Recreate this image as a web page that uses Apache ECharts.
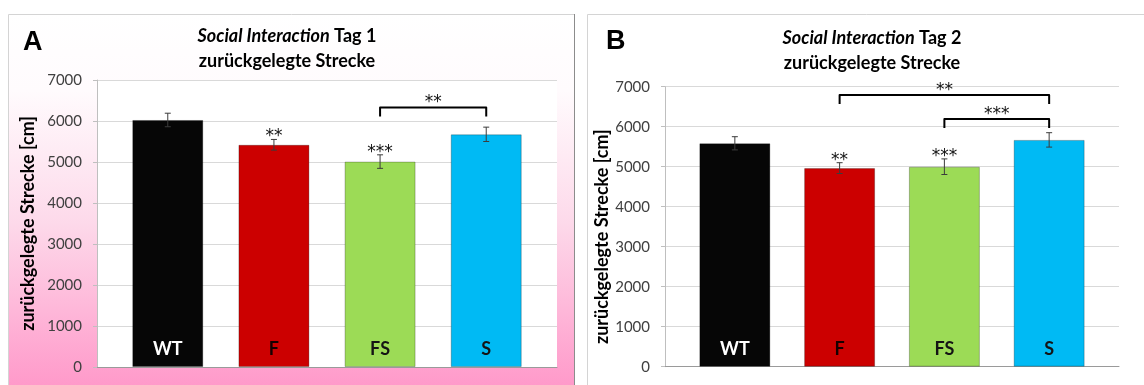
<!DOCTYPE html>
<html>
<head>
<meta charset="utf-8">
<script src="https://cdn.jsdelivr.net/npm/echarts@6/dist/echarts.min.js"></script>
<style>
html, body { margin: 0; padding: 0; background: #fff; }
#main { width: 1144px; height: 385px; }
</style>
</head>
<body>
<div id="main"></div>
<script>
// Gruppen und Werte
const categories = ['WT', 'F', 'FS', 'S'];
const barColors = ['#060606', '#cc0000', '#9cdb56', '#00baf4'];
const labelColors = ['#ffffff', '#160000', '#141414', '#141414'];

const day1Values = [6025, 5420, 5010, 5675];
const day1Errors = [165, 130, 165, 175];
const day1Stars = ['', '**', '***', ''];
// [von, bis, Höhe, Sterne]
const day1Brackets = [[2, 3, 6330, '**']];

const day2Values = [5585, 4965, 5000, 5670];
const day2Errors = [165, 135, 195, 180];
const day2Stars = ['', '**', '***', ''];
const day2Brackets = [[1, 3, 6790, '**'], [2, 3, 6190, '***']];

const yMin = 0, yMax = 7000, yStep = 1000;
const yTitle = 'zurückgelegte Strecke [cm]';

const FONT = 'Lato, "Open Sans", sans-serif';
const STAR_FONT = '17px "DejaVu Sans", sans-serif';

var myChart = echarts.init(document.getElementById('main'));

const barData = (values) => values.map((v, i) => ({
    value: [i, v],
    itemStyle: { color: barColors[i] },
    label: { color: labelColors[i] }
}));

const errData = (values, errors) => values.map((v, i) => [i, v, errors[i]]);

const errorItem = (stars) => (params, api) => {
    const x = api.value(0), v = api.value(1), e = api.value(2);
    const top = api.coord([x, v + e]);
    const bot = api.coord([x, v - e]);
    const st = { stroke: '#3c3c3c', lineWidth: 1 };
    const children = [
        { type: 'line', shape: { x1: top[0], y1: top[1], x2: bot[0], y2: bot[1] }, style: st },
        { type: 'line', shape: { x1: top[0] - 3, y1: top[1], x2: top[0] + 3, y2: top[1] }, style: st },
        { type: 'line', shape: { x1: bot[0] - 3, y1: bot[1], x2: bot[0] + 3, y2: bot[1] }, style: st }
    ];
    const s = stars[params.dataIndex];
    if (s) {
        children.push({
            type: 'text', x: top[0], y: top[1] + 6,
            style: { text: s, align: 'center', verticalAlign: 'bottom', font: STAR_FONT, fill: '#111' }
        });
    }
    return { type: 'group', children: children };
};

const bracketItem = (brackets) => (params, api) => {
    const b = brackets[params.dataIndex];
    const p1 = api.coord([b[0], b[2]]);
    const p2 = api.coord([b[1], b[2]]);
    return {
        type: 'group',
        children: [
            {
                type: 'polyline',
                shape: { points: [[p1[0], p1[1] + 9], [p1[0], p1[1]], [p2[0], p2[1]], [p2[0], p2[1] + 9]] },
                style: { stroke: '#000', lineWidth: 2, fill: null, lineJoin: 'round' }
            },
            {
                type: 'text', x: (p1[0] + p2[0]) / 2, y: p1[1] + 4,
                style: { text: b[3], align: 'center', verticalAlign: 'bottom', font: STAR_FONT, fill: '#111' }
            }
        ]
    };
};

const yAxisBase = (gridIndex, gap, pad) => ({
    type: 'value', gridIndex: gridIndex,
    min: yMin, max: yMax, interval: yStep,
    name: yTitle, nameLocation: 'middle', nameRotate: 90, nameGap: gap,
    nameTextStyle: { fontFamily: FONT, fontWeight: 'bold', fontSize: 18, color: '#000', padding: pad },
    axisLine: { show: true, onZero: false, lineStyle: { color: '#bfbfbf' } },
    axisTick: { show: true, length: 4, lineStyle: { color: '#bfbfbf' } },
    axisLabel: { fontFamily: FONT, fontSize: 15, color: '#404040', margin: 15, formatter: (v) => String(v) },
    splitLine: { lineStyle: { color: '#d9d9d9' } }
});

const xAxisBase = (gridIndex) => ({
    type: 'value', gridIndex: gridIndex,
    min: -2 / 3, max: 3 + 2 / 3,
    axisLine: { show: true, onZero: false, lineStyle: { color: '#9a9a9a' } },
    axisTick: { show: false },
    axisLabel: { show: false },
    splitLine: { show: false }
});

const barSeries = (idx, values) => ({
    type: 'bar', xAxisIndex: idx, yAxisIndex: idx,
    barWidth: 71,
    data: barData(values),
    itemStyle: { borderColor: 'rgba(0,0,0,0.25)', borderWidth: 1 },
    label: {
        show: true, position: 'insideBottom', distance: 9,
        fontFamily: FONT, fontWeight: 'bold', fontSize: 18,
        formatter: (p) => categories[p.dataIndex]
    },
    z: 2
});

const titleText = (x, y1, day) => ([
    {
        type: 'text', x: x, y: y1,
        style: {
            text: '{i|Social Interaction}{n| Tag ' + day + '}',
            align: 'center', verticalAlign: 'middle',
            rich: {
                i: { fontFamily: FONT, fontStyle: 'italic', fontWeight: 'bold', fontSize: 18, fill: '#000' },
                n: { fontFamily: FONT, fontWeight: 'bold', fontSize: 18, fill: '#000' }
            }
        }
    },
    {
        type: 'text', x: x, y: y1 + 25,
        style: {
            text: 'zurückgelegte Strecke', align: 'center', verticalAlign: 'middle',
            font: 'bold 18px ' + FONT, fill: '#000'
        }
    }
]);

myChart.setOption({
    animation: false,
    backgroundColor: '#ffffff',
    graphic: [
        {
            type: 'rect', z: -10, silent: true,
            shape: { x: 8.5, y: 14.5, width: 566, height: 380 },
            style: {
                stroke: '#d4d4d4', lineWidth: 1,
                fill: new echarts.graphic.LinearGradient(0, 0, 0, 1, [
                    { offset: 0, color: '#ffffff' },
                    { offset: 0.2, color: '#fffbfd' },
                    { offset: 0.55, color: '#fdd9ea' },
                    { offset: 1, color: '#ff96c8' }
                ])
            }
        },
        {
            type: 'line', z: -9, silent: true,
            shape: { x1: 574.5, y1: 14, x2: 574.5, y2: 385 },
            style: { stroke: '#8c8c8c', lineWidth: 1 }
        },
        {
            type: 'rect', z: -10, silent: true,
            shape: { x: 587.5, y: 14.5, width: 570, height: 380 },
            style: { stroke: '#d4d4d4', lineWidth: 1, fill: '#ffffff' }
        },
        {
            type: 'text', x: 23, y: 43,
            style: { text: 'A', font: 'bold 27px "Liberation Sans", Arial, sans-serif', fill: '#000', verticalAlign: 'middle' }
        },
        {
            type: 'text', x: 606, y: 42,
            style: { text: 'B', font: 'bold 27px "Liberation Sans", Arial, sans-serif', fill: '#000', verticalAlign: 'middle' }
        }
    ].concat(titleText(287, 36, 1), titleText(872, 38, 2)),
    grid: [
        { left: 97, top: 80, width: 460, height: 287, show: true, backgroundColor: '#ffffff', borderWidth: 0, outerBoundsMode: 'none' },
        { left: 665, top: 86.7, width: 454, height: 280, show: true, backgroundColor: '#ffffff', borderWidth: 0, outerBoundsMode: 'none' }
    ],
    xAxis: [xAxisBase(0), xAxisBase(1)],
    yAxis: [yAxisBase(0, 60, [0, 0, 0, 0]), yAxisBase(1, 53, [0, 20, 0, 0])],
    series: [
        barSeries(0, day1Values),
        barSeries(1, day2Values),
        {
            type: 'custom', xAxisIndex: 0, yAxisIndex: 0,
            renderItem: errorItem(day1Stars),
            data: errData(day1Values, day1Errors), z: 5
        },
        {
            type: 'custom', xAxisIndex: 1, yAxisIndex: 1,
            renderItem: errorItem(day2Stars),
            data: errData(day2Values, day2Errors), z: 5
        },
        {
            type: 'custom', xAxisIndex: 0, yAxisIndex: 0,
            encode: { x: [0, 1], y: 2 },
            renderItem: bracketItem(day1Brackets),
            data: day1Brackets.map(b => [b[0], b[1], b[2]]), z: 6
        },
        {
            type: 'custom', xAxisIndex: 1, yAxisIndex: 1,
            encode: { x: [0, 1], y: 2 },
            renderItem: bracketItem(day2Brackets),
            data: day2Brackets.map(b => [b[0], b[1], b[2]]), z: 6
        }
    ]
});
</script>
</body>
</html>
